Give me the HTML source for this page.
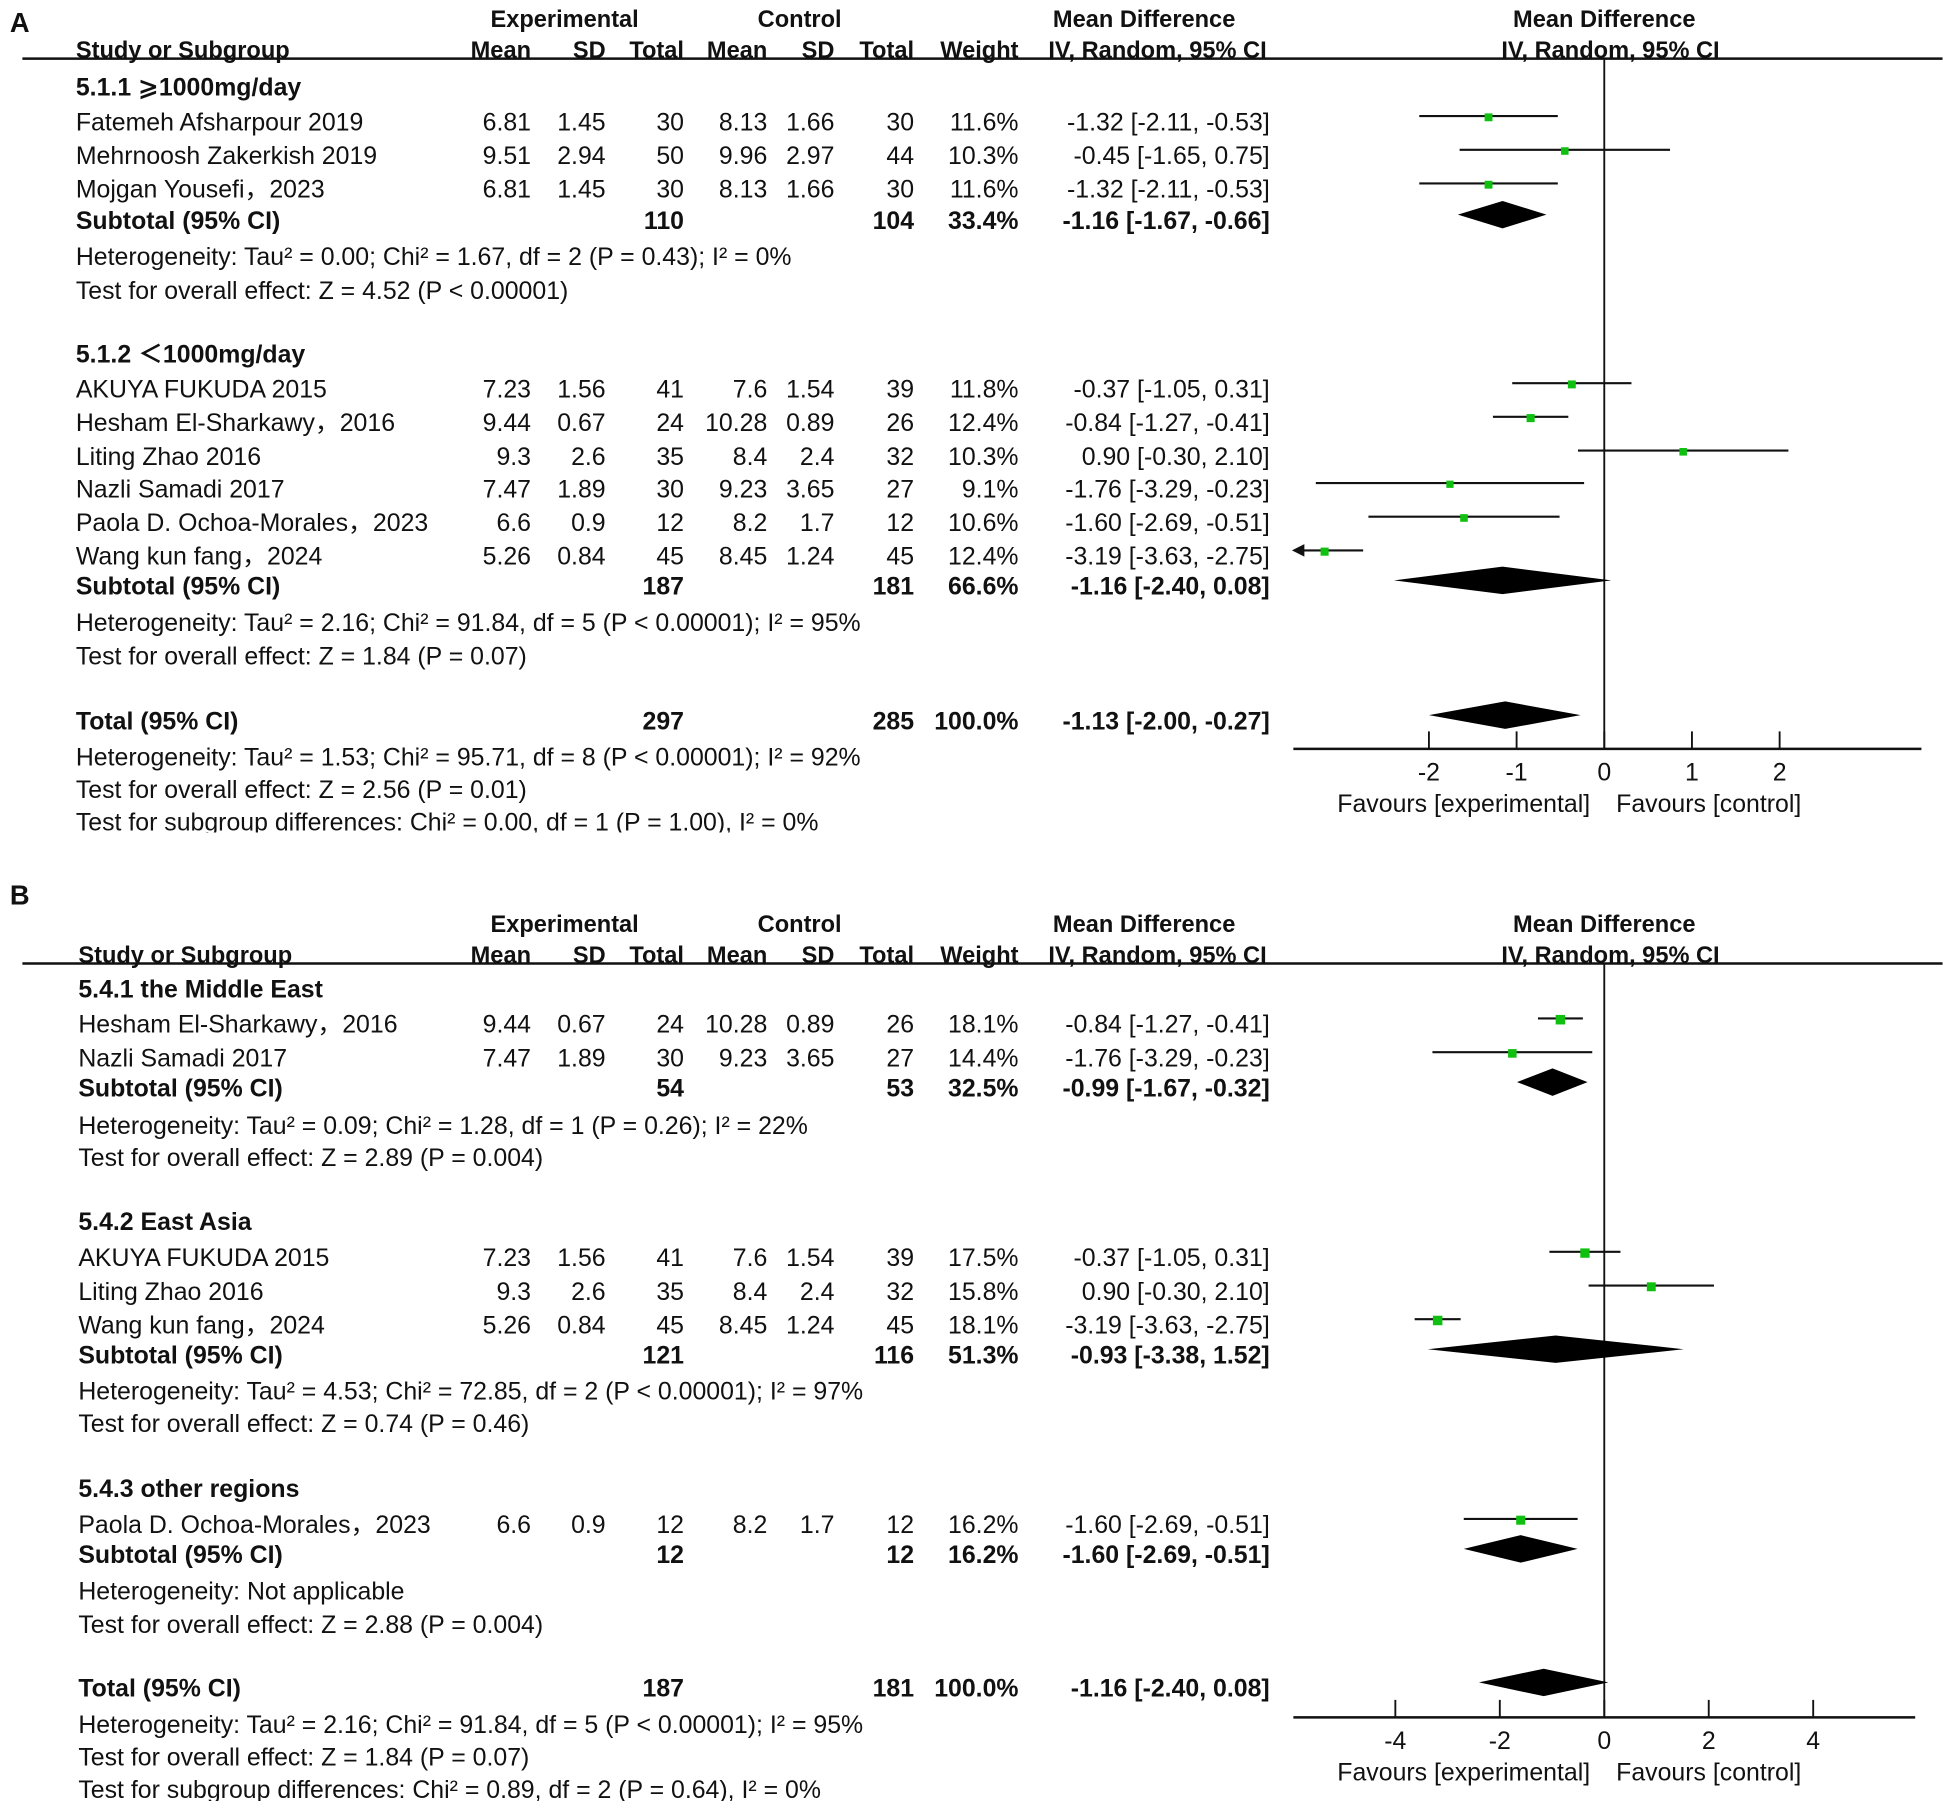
<!DOCTYPE html>
<html><head><meta charset="utf-8"><style>
html,body{margin:0;padding:0;background:#fff;}
svg{display:block;}
text{font-family:"Liberation Sans","DejaVu Sans","Noto Sans CJK SC",sans-serif;fill:#111;}
</style></head><body>
<svg id="fig" width="1950" height="1801" viewBox="0 0 1568 1443" preserveAspectRatio="none" xmlns="http://www.w3.org/2000/svg"></svg>
<script>
// ---------- Panel A data ----------
const aNames = ["Fatemeh Afsharpour 2019","Mehrnoosh Zakerkish 2019","Mojgan Yousefi，2023","AKUYA FUKUDA 2015","Hesham El-Sharkawy，2016","Liting Zhao 2016","Nazli Samadi 2017","Paola D. Ochoa-Morales，2023","Wang kun fang，2024"];
const aExpMean = ["6.81","9.51","6.81","7.23","9.44","9.3","7.47","6.6","5.26"];
const aExpSD = ["1.45","2.94","1.45","1.56","0.67","2.6","1.89","0.9","0.84"];
const aExpN = [30,50,30,41,24,35,30,12,45];
const aCtlMean = ["8.13","9.96","8.13","7.6","10.28","8.4","9.23","8.2","8.45"];
const aCtlSD = ["1.66","2.97","1.66","1.54","0.89","2.4","3.65","1.7","1.24"];
const aCtlN = [30,44,30,39,26,32,27,12,45];
const aWeight = [11.6,10.3,11.6,11.8,12.4,10.3,9.1,10.6,12.4];
const aMD = [-1.32,-0.45,-1.32,-0.37,-0.84,0.90,-1.76,-1.60,-3.19];
const aLo = [-2.11,-1.65,-2.11,-1.05,-1.27,-0.30,-3.29,-2.69,-3.63];
const aHi = [-0.53,0.75,-0.53,0.31,-0.41,2.10,-0.23,-0.51,-2.75];
const aPooledMD = [-1.16,-1.16,-1.13];
const aPooledLo = [-1.67,-2.40,-2.00];
const aPooledHi = [-0.66,0.08,-0.27];
const aTicks = [-2,-1,0,1,2];
// ---------- Panel B data ----------
const bNames = ["Hesham El-Sharkawy，2016","Nazli Samadi 2017","AKUYA FUKUDA 2015","Liting Zhao 2016","Wang kun fang，2024","Paola D. Ochoa-Morales，2023"];
const bExpMean = ["9.44","7.47","7.23","9.3","5.26","6.6"];
const bExpSD = ["0.67","1.89","1.56","2.6","0.84","0.9"];
const bExpN = [24,30,41,35,45,12];
const bCtlMean = ["10.28","9.23","7.6","8.4","8.45","8.2"];
const bCtlSD = ["0.89","3.65","1.54","2.4","1.24","1.7"];
const bCtlN = [26,27,39,32,45,12];
const bWeight = [18.1,14.4,17.5,15.8,18.1,16.2];
const bMD = [-0.84,-1.76,-0.37,0.90,-3.19,-1.60];
const bLo = [-1.27,-3.29,-1.05,-0.30,-3.63,-2.69];
const bHi = [-0.41,-0.23,0.31,2.10,-2.75,-0.51];
const bPooledMD = [-0.99,-0.93,-1.60,-1.16];
const bPooledLo = [-1.67,-3.38,-2.69,-2.40];
const bPooledHi = [-0.32,1.52,-0.51,0.08];
const bTicks = [-4,-2,0,2,4];

const svg = document.getElementById('fig');
const NS = 'http://www.w3.org/2000/svg';
function el(tag, attrs, parent){
  const e = document.createElementNS(NS, tag);
  for (const k in attrs) e.setAttribute(k, attrs[k]);
  (parent||svg).appendChild(e); return e;
}
function txt(s, x, y, anchor, bold, size, parent){
  const t = el('text', {x:x, y:y, 'text-anchor':anchor||'start', 'font-size':size||20, 'font-weight':bold?'bold':'normal', 'dominant-baseline':'central'}, parent);
  t.textContent = s; return t;
}
const cols = {em:427, esd:487, en:550, cm:617, csd:671, cn:735, w:819, ci:1021};
function fmt(v){ return v.toFixed(2); }
function ciStr(m,l,h){ return fmt(m)+' ['+fmt(l)+', '+fmt(h)+']'; }

function panel(P){
  const g = el('g', {});
  
  
  const sx = v => P.x0 + v * P.unit;
  const lbl = txt(P.label, P.lx, P.ly, 'start', true, 22, g);
  
  
  const r1 = P.top-31, r2 = P.top-6;
  txt('Experimental', 454, r1, 'middle', true, 19, g);
  txt('Control', 643, r1, 'middle', true, 19, g);
  txt('Mean Difference', 920, r1, 'middle', true, 19, g);
  txt('Mean Difference', 1290, r1, 'middle', true, 19, g);
  txt('Study or Subgroup', P.sx, r2, 'start', true, 19, g);
  [['Mean',cols.em],['SD',cols.esd],['Total',cols.en],['Mean',cols.cm],['SD',cols.csd],['Total',cols.cn],['Weight',cols.w]].forEach(h=>txt(h[0],h[1],r2,'end',true,19,g));
  txt('IV, Random, 95% CI', 843, r2, 'start', true, 19, g);
  txt('IV, Random, 95% CI', 1295, r2, 'middle', true, 19, g);
  const hl = el('line', {x1:18, x2:1562, y1:P.top, y2:P.top, stroke:'#111', 'stroke-width':2}, g);
  
  
  const zl = el('line', {x1:sx(0), x2:sx(0), y1:P.top, y2:P.axisY, stroke:'#111', 'stroke-width':1.5}, g);
  
  
  P.rows.forEach(r=>{
    if (r.t==='head') txt(r.s, P.sx, r.y, 'start', true, 20, g);
    else if (r.t==='note') txt(r.s, P.sx, r.y, 'start', false, 20, g);
    else if (r.t==='study'){
      const i = r.i, D = P.d;
      txt(D.names[i], P.sx, r.y, 'start', false, 20, g);
      txt(D.em[i], cols.em, r.y, 'end', false, 20, g);
      txt(D.esd[i], cols.esd, r.y, 'end', false, 20, g);
      txt(String(D.en[i]), cols.en, r.y, 'end', false, 20, g);
      txt(D.cm[i], cols.cm, r.y, 'end', false, 20, g);
      txt(D.csd[i], cols.csd, r.y, 'end', false, 20, g);
      txt(String(D.cn[i]), cols.cn, r.y, 'end', false, 20, g);
      txt(D.w[i].toFixed(1)+'%', cols.w, r.y, 'end', false, 20, g);
      txt(ciStr(D.md[i],D.lo[i],D.hi[i]), cols.ci, r.y, 'end', false, 20, g);
      const my = r.y - 5;
      let lo = D.lo[i];
      const clipped = lo < P.min;
      if (clipped) lo = P.min;
      const ln = el('line', {x1:sx(lo), x2:sx(D.hi[i]), y1:my, y2:my, stroke:'#111', 'stroke-width':1.7}, g);
      
      
      if (clipped){
        const ar = el('polygon', {points:(sx(lo)-3)+','+my+' '+(sx(lo)+7)+','+(my-5)+' '+(sx(lo)+7)+','+(my+5), fill:'#111'}, g);
        
        
      }
      const s = 4 + D.w[i]*P.sq;
      const sqr = el('rect', {x:sx(D.md[i])-s/2, y:my-s/2+1, width:s, height:s, fill:'#10c010'}, g);
      
      
    }
    else if (r.t==='sub'){
      const k = r.k, D = P.d;
      txt(r.s, P.sx, r.y, 'start', true, 20, g);
      txt(String(r.en), cols.en, r.y, 'end', true, 20, g);
      txt(String(r.cn), cols.cn, r.y, 'end', true, 20, g);
      txt(r.w, cols.w, r.y, 'end', true, 20, g);
      txt(ciStr(D.pm[k],D.pl[k],D.ph[k]), cols.ci, r.y, 'end', true, 20, g);
      const my = r.y - 5, h = 11;
      const dm = el('polygon', {points:sx(D.pl[k])+','+my+' '+sx(D.pm[k])+','+(my-h)+' '+sx(D.ph[k])+','+my+' '+sx(D.pm[k])+','+(my+h), fill:'#000'}, g);
      
      
    }
  });
  const ax = el('line', {x1:1040, x2:P.axR, y1:P.axisY, y2:P.axisY, stroke:'#111', 'stroke-width':2}, g);
  
  
  P.ticks.forEach(t=>{
    el('line', {x1:sx(t), x2:sx(t), y1:P.axisY, y2:P.axisY-14, stroke:'#111', 'stroke-width':1.5}, g);
    const tl = txt(String(t), sx(t), P.axisY+19, 'middle', false, 20, g);
    
    
  });
  txt('Favours [experimental]', 1177, P.axisY+44, 'middle', false, 20, g);
  txt('Favours [control]', 1374, P.axisY+44, 'middle', false, 20, g);
  el('rect', {x:0, y:P.clipY, width:1040, height:40, fill:'#fff'}, g);
}

panel({id:'panel-a', label:'A', lx:8, ly:18, top:47, sx:61, x0:1290, unit:70.5, min:-3.52, axisY:600, axR:1545, ticks:aTicks, sq:0.2, clipY:667,
  d:{names:aNames,em:aExpMean,esd:aExpSD,en:aExpN,cm:aCtlMean,csd:aCtlSD,cn:aCtlN,w:aWeight,md:aMD,lo:aLo,hi:aHi,pm:aPooledMD,pl:aPooledLo,ph:aPooledHi},
  rows:[
    {t:'head',s:'5.1.1 ⩾1000mg/day',y:70},
    {t:'study',i:0,y:98},{t:'study',i:1,y:125},{t:'study',i:2,y:152},
    {t:'sub',k:0,s:'Subtotal (95% CI)',en:110,cn:104,w:'33.4%',y:177},
    {t:'note',s:'Heterogeneity: Tau² = 0.00; Chi² = 1.67, df = 2 (P = 0.43); I² = 0%',y:206},
    {t:'note',s:'Test for overall effect: Z = 4.52 (P < 0.00001)',y:233},
    {t:'head',s:'5.1.2 ＜1000mg/day',y:284},
    {t:'study',i:3,y:312},{t:'study',i:4,y:339},{t:'study',i:5,y:366},{t:'study',i:6,y:392},{t:'study',i:7,y:419},{t:'study',i:8,y:446},
    {t:'sub',k:1,s:'Subtotal (95% CI)',en:187,cn:181,w:'66.6%',y:470},
    {t:'note',s:'Heterogeneity: Tau² = 2.16; Chi² = 91.84, df = 5 (P < 0.00001); I² = 95%',y:499},
    {t:'note',s:'Test for overall effect: Z = 1.84 (P = 0.07)',y:526},
    {t:'sub',k:2,s:'Total (95% CI)',en:297,cn:285,w:'100.0%',y:578},
    {t:'note',s:'Heterogeneity: Tau² = 1.53; Chi² = 95.71, df = 8 (P < 0.00001); I² = 92%',y:607},
    {t:'note',s:'Test for overall effect: Z = 2.56 (P = 0.01)',y:633},
    {t:'note',s:'Test for subgroup differences: Chi² = 0.00, df = 1 (P = 1.00), I² = 0%',y:659}
  ]});

panel({id:'panel-b', label:'B', lx:8, ly:717, top:772, sx:63, x0:1290, unit:42, min:-6, axisY:1376, axR:1540, ticks:bTicks, sq:0.2, clipY:1443,
  d:{names:bNames,em:bExpMean,esd:bExpSD,en:bExpN,cm:bCtlMean,csd:bCtlSD,cn:bCtlN,w:bWeight,md:bMD,lo:bLo,hi:bHi,pm:bPooledMD,pl:bPooledLo,ph:bPooledHi},
  rows:[
    {t:'head',s:'5.4.1 the Middle East',y:793},
    {t:'study',i:0,y:821},{t:'study',i:1,y:848},
    {t:'sub',k:0,s:'Subtotal (95% CI)',en:54,cn:53,w:'32.5%',y:872},
    {t:'note',s:'Heterogeneity: Tau² = 0.09; Chi² = 1.28, df = 1 (P = 0.26); I² = 22%',y:902},
    {t:'note',s:'Test for overall effect: Z = 2.89 (P = 0.004)',y:928},
    {t:'head',s:'5.4.2 East Asia',y:979},
    {t:'study',i:2,y:1008},{t:'study',i:3,y:1035},{t:'study',i:4,y:1062},
    {t:'sub',k:1,s:'Subtotal (95% CI)',en:121,cn:116,w:'51.3%',y:1086},
    {t:'note',s:'Heterogeneity: Tau² = 4.53; Chi² = 72.85, df = 2 (P < 0.00001); I² = 97%',y:1115},
    {t:'note',s:'Test for overall effect: Z = 0.74 (P = 0.46)',y:1141},
    {t:'head',s:'5.4.3 other regions',y:1193},
    {t:'study',i:5,y:1222},
    {t:'sub',k:2,s:'Subtotal (95% CI)',en:12,cn:12,w:'16.2%',y:1246},
    {t:'note',s:'Heterogeneity: Not applicable',y:1275},
    {t:'note',s:'Test for overall effect: Z = 2.88 (P = 0.004)',y:1302},
    {t:'sub',k:3,s:'Total (95% CI)',en:187,cn:181,w:'100.0%',y:1353},
    {t:'note',s:'Heterogeneity: Tau² = 2.16; Chi² = 91.84, df = 5 (P < 0.00001); I² = 95%',y:1382},
    {t:'note',s:'Test for overall effect: Z = 1.84 (P = 0.07)',y:1408},
    {t:'note',s:'Test for subgroup differences: Chi² = 0.89, df = 2 (P = 0.64), I² = 0%',y:1434}
  ]});
</script>
</body></html>
